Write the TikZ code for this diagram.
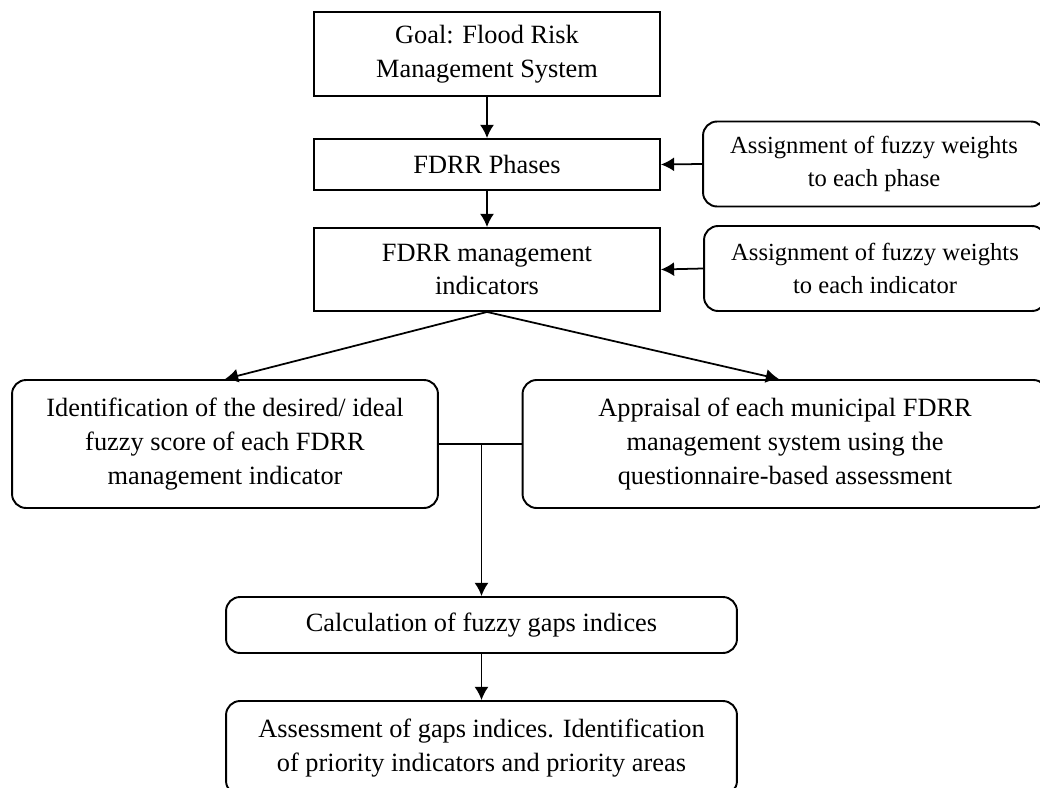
\documentclass[tikz,border=0pt]{standalone}
\usepackage{fontspec}
\setmainfont{Liberation Serif}
\usepackage{tikz}
\usetikzlibrary{
  arrows.meta,
  positioning}

\tikzset{
  sharpbox/.style={draw, line width=1.1pt, inner sep=0pt, align=center,
    font=\fontsize{15}{19.3}\selectfont},
  roundbox/.style={sharpbox, rounded corners=8pt},
  weightbox/.style={roundbox, font=\fontsize{14}{19.3}\selectfont},
  arrowline/.style={line width=1pt, -{Latex[length=7.5pt,width=8pt]}},
}

\begin{document}
\begin{tikzpicture}[x=0.02cm, y=-0.02cm]
\useasboundingbox (0,0) rectangle (1040,787);

\node[sharpbox, minimum width=6.92cm, minimum height=1.68cm] (goal)
  at (487,54) {Goal: Flood Risk\\Management System};
\node[sharpbox, minimum width=6.92cm, minimum height=1.02cm] (phases)
  at (487,164.5) {FDRR Phases};
\node[sharpbox, minimum width=6.92cm, minimum height=1.66cm] (indic)
  at (487,269.5) {FDRR management\\indicators};

\node[weightbox, minimum width=6.84cm, minimum height=1.7cm] (wphase)
  at (874,164) {Assignment of fuzzy weights\\to each phase};
\node[weightbox, minimum width=6.84cm, minimum height=1.7cm] (windic)
  at (875,268.5) {Assignment of fuzzy weights\\to each indicator};

\node[roundbox, minimum width=8.52cm, minimum height=2.56cm] (ident)
  at (225,444) {Identification of the desired/ ideal\\fuzzy score of each FDRR\\management indicator};
\node[roundbox, minimum width=10.5cm, minimum height=2.56cm] (apprais)
  at (785,444) {Appraisal of each municipal FDRR\\management system using the\\questionnaire-based assessment};

\node[roundbox, minimum width=10.22cm, minimum height=1.12cm] (calc)
  at (481.5,625) {Calculation of fuzzy gaps indices};
\node[roundbox, minimum width=10.22cm, minimum height=1.88cm] (assess)
  at (481.5,748) {Assessment of gaps indices. Identification\\of priority indicators and priority areas};

\coordinate (junc) at (ident.east -| calc.north);

\draw[arrowline] (goal) -- (phases);
\draw[arrowline] (phases) -- (indic);
\draw[arrowline] (wphase.west) -- (phases.east);
\draw[arrowline] (windic.west) -- (indic.east);
\draw[arrowline] (indic.south) -- (ident.north);
\draw[arrowline] (indic.south) -- ([xshift=-0.12cm]apprais.north);
\draw[line width=1pt] (ident.east) -- (apprais.west);
\draw[arrowline] (junc) -- (calc.north);
\draw[arrowline] (calc) -- (assess);
\end{tikzpicture}
\end{document}
